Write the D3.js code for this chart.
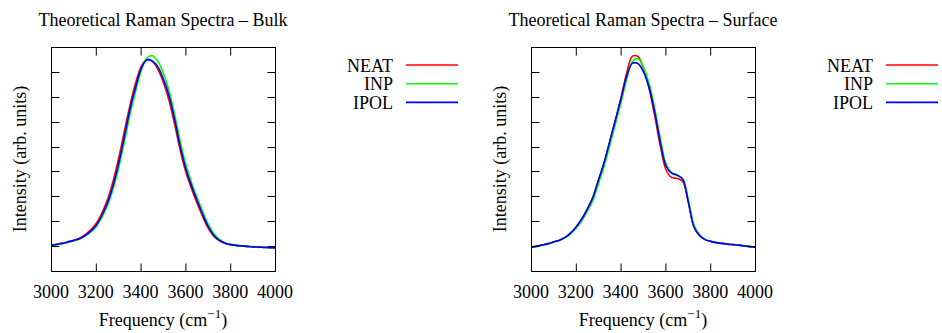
<!DOCTYPE html>
<html>
<head>
<meta charset="utf-8">
<script src="https://cdn.jsdelivr.net/npm/d3@7"></script>
<style>
  body { margin: 0; background: #fff; }
  text { font-family: "Liberation Serif", "Times New Roman", serif; fill: #000; }
</style>
</head>
<body>
<div id="chart"></div>
<script>
// frequency grid (cm^-1)
const freq = [3000,3025,3050,3075,3100,3125,3150,3175,3200,3225,3250,3275,3300,3325,3350,3375,3400,3425,3450,3475,
  3500,3525,3550,3575,3600,3625,3650,3675,3700,3725,3750,3775,3800,3825,3850,3875,3900,3925,3950,3975,4000]

// bulk spectra
const bulkNeat = [1.06,1.10,1.14,1.20,1.26,1.34,1.48,1.67,1.94,2.35,2.89,3.63,4.56,5.62,6.66,7.56,8.22,8.52,8.44,8.12,
  7.58,6.86,5.90,4.85,3.99,3.33,2.74,2.20,1.73,1.41,1.23,1.13,1.07,1.04,1.02,1.00,0.99,0.98,0.97,0.96,0.95]
const bulkInp = [1.04,1.08,1.12,1.18,1.24,1.31,1.42,1.58,1.81,2.17,2.65,3.31,4.17,5.19,6.28,7.22,8.05,8.58,8.67,8.44,
  7.95,7.25,6.30,5.22,4.30,3.58,2.97,2.41,1.90,1.52,1.29,1.16,1.09,1.06,1.03,1.01,0.99,0.98,0.97,0.96,0.95]
const bulkIpol = [1.05,1.09,1.13,1.19,1.25,1.32,1.44,1.62,1.86,2.25,2.75,3.45,4.35,5.40,6.50,7.38,8.15,8.50,8.46,8.22,
  7.72,7.05,6.10,5.02,4.12,3.45,2.85,2.30,1.80,1.45,1.25,1.14,1.08,1.05,1.03,1.01,0.99,0.98,0.97,0.96,0.95]

// surface spectra
const surfNeat = [0.98,1.02,1.07,1.12,1.19,1.26,1.37,1.55,1.80,2.12,2.52,3.00,3.70,4.40,5.25,6.10,7.00,7.98,8.64,8.64,
  8.15,7.35,6.25,5.05,4.10,3.78,3.74,3.62,2.78,1.80,1.45,1.28,1.21,1.16,1.13,1.10,1.08,1.06,1.03,1.00,0.98]
const surfInp = [0.97,1.01,1.06,1.11,1.18,1.25,1.35,1.51,1.75,2.05,2.44,2.88,3.56,4.25,5.08,5.93,6.80,7.72,8.44,8.56,
  8.20,7.55,6.55,5.35,4.35,3.98,3.88,3.74,2.90,1.88,1.48,1.29,1.22,1.16,1.13,1.10,1.08,1.06,1.03,1.00,0.98]
const surfIpol = [0.98,1.02,1.07,1.12,1.19,1.26,1.37,1.55,1.80,2.12,2.52,3.00,3.70,4.40,5.25,6.10,6.95,7.85,8.36,8.36,
  8.02,7.40,6.40,5.20,4.25,3.95,3.87,3.70,2.80,1.80,1.45,1.28,1.21,1.16,1.13,1.10,1.08,1.06,1.03,1.00,0.98]

const xTicks = [3000,3200,3400,3600,3800,4000]
const yTicks = [1,2,3,4,5,6,7,8]
const seriesNames = ["NEAT","INP","IPOL"]
const colors = ["#ff0000","#00ff00","#0000ff"]

const panels = [
  {title: "Theoretical Raman Spectra \u2013 Bulk", left: 51, series: [bulkNeat, bulkInp, bulkIpol]},
  {title: "Theoretical Raman Spectra \u2013 Surface", left: 531, series: [surfNeat, surfInp, surfIpol]}
]

const width = 942
const height = 333
const plotTop = 47, size = 224

const svg = d3.select("#chart")
  .append("svg")
    .attr("width", width)
    .attr("height", height)

panels.forEach(p => {
  const x = d3.scaleLinear().domain([3000, 4000]).range([p.left, p.left + size])
  const y = d3.scaleLinear().domain([0, 9]).range([plotTop + size, plotTop])

  const g = svg.append("g").attr("transform", "translate(0.5,0.5)")

  // curves (drawn first so the frame sits on top)
  const line = d3.line()
    .x((d, i) => x(freq[i]))
    .y(d => y(d))
    .curve(d3.curveCatmullRom.alpha(0.5))

  p.series.forEach((s, k) => {
    g.append("path")
      .datum(s)
      .attr("d", line)
      .attr("fill", "none")
      .attr("stroke", colors[k])
      .attr("stroke-width", 1.6)
  })

  // inward ticks on all four sides
  const tl = 8
  g.selectAll(".xtb").data(xTicks.slice(1, -1)).join("line")
    .attr("x1", d => x(d)).attr("x2", d => x(d))
    .attr("y1", plotTop + size).attr("y2", plotTop + size - tl)
    .attr("stroke", "#000")
  g.selectAll(".xtt").data(xTicks.slice(1, -1)).join("line")
    .attr("x1", d => x(d)).attr("x2", d => x(d))
    .attr("y1", plotTop).attr("y2", plotTop + tl)
    .attr("stroke", "#000")
  g.selectAll(".ytl").data(yTicks).join("line")
    .attr("x1", p.left).attr("x2", p.left + tl)
    .attr("y1", d => Math.round(y(d))).attr("y2", d => Math.round(y(d)))
    .attr("stroke", "#000")
  g.selectAll(".ytr").data(yTicks).join("line")
    .attr("x1", p.left + size).attr("x2", p.left + size - tl)
    .attr("y1", d => Math.round(y(d))).attr("y2", d => Math.round(y(d)))
    .attr("stroke", "#000")

  // frame
  g.append("rect")
    .attr("x", p.left).attr("y", plotTop)
    .attr("width", size).attr("height", size)
    .attr("fill", "none")
    .attr("stroke", "#000")

  // x tick labels
  svg.selectAll(null).data(xTicks).join("text")
    .attr("x", d => x(d))
    .attr("y", 297.5)
    .attr("text-anchor", "middle")
    .style("font-size", "18px")
    .text(d => d)

  // title
  svg.append("text")
    .attr("x", p.left + size / 2)
    .attr("y", 26)
    .attr("text-anchor", "middle")
    .style("font-size", "18px")
    .text(p.title)

  // x label
  const xl = svg.append("text")
    .attr("x", p.left + size / 2)
    .attr("y", 326)
    .attr("text-anchor", "middle")
    .style("font-size", "18px")
  xl.append("tspan").text("Frequency (cm")
  xl.append("tspan").attr("dy", -8).style("font-size", "13px").text("\u22121")
  xl.append("tspan").attr("dy", 8).text(")")

  // y label
  svg.append("text")
    .attr("transform", `translate(${p.left - 25},${plotTop + size / 2}) rotate(-90)`)
    .attr("text-anchor", "middle")
    .style("font-size", "18px")
    .text("Intensity (arb. units)")

  // legend
  const lx = p.left + 342
  seriesNames.forEach((name, k) => {
    const ly = 65 + k * 18.7
    svg.append("text")
      .attr("x", lx)
      .attr("y", ly + 6.5)
      .attr("text-anchor", "end")
      .style("font-size", "18px")
      .text(name)
    svg.append("line")
      .attr("x1", lx + 13).attr("x2", lx + 65)
      .attr("y1", ly).attr("y2", ly)
      .attr("stroke", colors[k])
      .attr("stroke-width", 1.6)
  })
})
</script>
</body>
</html>
